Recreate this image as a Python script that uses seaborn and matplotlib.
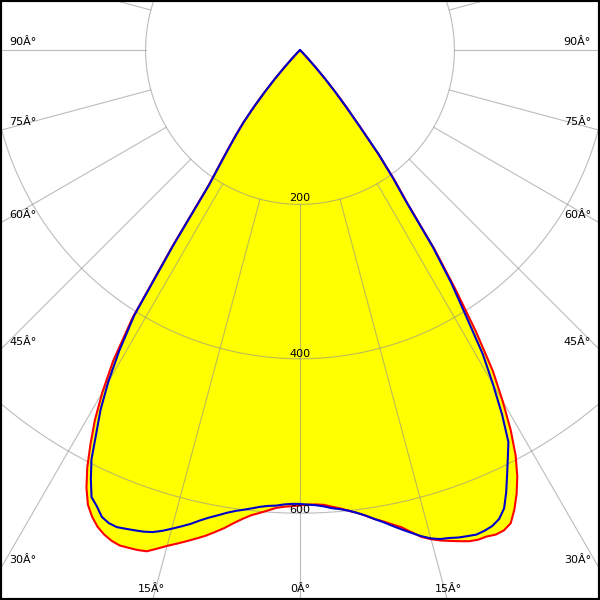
import numpy as np
import pandas as pd
import matplotlib
matplotlib.use("Agg")
import matplotlib.pyplot as plt
import seaborn as sns

# ---- data (gamma angle from nadir in degrees, intensity in cd) ----
angles = [0, 1, 2, 3, 4, 5, 6, 7, 8, 9, 10, 11, 12, 13, 14, 15, 16, 17, 18, 19,
          20, 21, 22, 23, 24, 25, 26, 27, 28, 29, 30, 31, 32, 33, 34, 35, 36, 37,
          38, 39, 40, 41, 42, 43, 44, 45, 50, 60, 70, 80, 90]
red_left = [590, 591, 592, 594, 598, 602, 606, 612, 619, 627, 634, 641, 647, 653,
            659, 665, 672, 679, 681, 682, 683, 681, 677, 671, 662, 650, 631, 607,
            578, 548, 512, 470, 410, 305, 212, 182, 158, 138, 119, 95, 72, 50, 30,
            15, 5, 0, 0, 0, 0, 0, 0]
red_right = [589, 589, 589, 590, 593, 596, 600, 604, 609, 615, 620, 626, 632, 641,
             650, 656, 661, 665, 669, 673, 675, 675, 677, 676, 671, 657, 640, 620,
             595, 563, 525, 485, 430, 370, 312, 243, 208, 168, 127, 98, 73, 50, 30,
             15, 5, 0, 0, 0, 0, 0, 0]
blue_left = [588, 588, 589, 591, 592, 594, 597, 600, 603, 607, 612, 617, 623, 630,
             636, 642, 648, 653, 656, 658, 660, 662, 661, 657, 647, 639, 618, 595,
             562, 533, 497, 455, 405, 300, 210, 180, 157, 137, 118, 95, 72, 50, 30,
             15, 5, 0, 0, 0, 0, 0, 0]
blue_right = [588, 589, 590, 592, 595, 597, 600, 604, 609, 615, 621, 628, 635, 642,
              649, 655, 659, 661, 664, 666, 668, 667, 665, 660, 650, 632, 612, 593,
              575, 540, 500, 460, 405, 360, 308, 240, 205, 170, 125, 95, 72, 50, 30,
              15, 5, 0, 0, 0, 0, 0, 0]
ring_values = [200, 400, 600]
ring_labels = ["200", "400", "600"]
angle_ticks = [0, 15, 30, 45, 60, 75, 90]
angle_labels = ["0Â°", "15Â°", "30Â°", "45Â°", "60Â°", "75Â°", "90Â°"]

sns.set_theme(style="white")
plt.rcParams['font.family'] = ['DejaVu Sans']

K = 0.772  # px per cd
fig = plt.figure(figsize=(6, 6), dpi=100)
ax = fig.add_axes([0, 0, 1, 1])
ax.set_xlim(-300 / K, 300 / K)
ax.set_ylim(-550 / K, 50 / K)


def curve_df(left, right):
    g = [-a for a in angles[::-1]] + angles[1:]
    i = left[::-1] + right[1:]
    g = np.radians(np.array(g, dtype=float))
    i = np.array(i, dtype=float)
    return pd.DataFrame({"x": i * np.sin(g), "y": -i * np.cos(g)})


red = curve_df(red_left, red_right)
blue = curve_df(blue_left, blue_right)

ax.fill(red["x"], red["y"], color="#ffff00", lw=0, zorder=1)
ax.fill(blue["x"], blue["y"], color="#ffff00", lw=0, zorder=1)

# grid
grid_c = "#909090"
t = np.radians(np.linspace(0, 360, 721))
for r in ring_values:
    ax.plot(r * np.sin(t), -r * np.cos(t), color=grid_c, lw=0.8, alpha=0.6, zorder=2)
for a in range(0, 360, 15):
    ar = np.radians(a)
    ax.plot([200 * np.sin(ar), 1500 * np.sin(ar)], [-200 * np.cos(ar), -1500 * np.cos(ar)],
            color=grid_c, lw=0.8, alpha=0.6, zorder=2)

sns.lineplot(data=red, x="x", y="y", sort=False, estimator=None, color="#ff0000",
             lw=1.5, ax=ax, zorder=3)
sns.lineplot(data=blue, x="x", y="y", sort=False, estimator=None, color="#0000cc",
             lw=1.5, ax=ax, zorder=4)

fs = 8
# ring labels
ring_py = [198, 354, 510]
for lab, py in zip(ring_labels, ring_py):
    ax.text(0.5, 1 - py / 600, lab, transform=ax.transAxes, ha="center", va="center",
            fontsize=fs, color="black", zorder=5)

# angle labels
side_py = {30: 560, 45: 342, 60: 215, 75: 122, 90: 42}
for a, lab in zip(angle_ticks, angle_labels):
    if a == 0:
        ax.text(0.5, 1 - 589 / 600, lab, transform=ax.transAxes, ha="center", va="center",
                fontsize=fs, color="black", zorder=5)
    elif a == 15:
        for px in (151, 448):
            ax.text(px / 600, 1 - 589 / 600, lab, transform=ax.transAxes, ha="center",
                    va="center", fontsize=fs, color="black", zorder=5)
    else:
        py = side_py[a]
        ax.text(9 / 600, 1 - py / 600, lab, transform=ax.transAxes, ha="left", va="center",
                fontsize=fs, color="black", zorder=5)
        ax.text(591 / 600, 1 - py / 600, lab, transform=ax.transAxes, ha="right", va="center",
                fontsize=fs, color="black", zorder=5)

ax.set_xticks([])
ax.set_yticks([])
ax.set_xlabel("")
ax.set_ylabel("")
for s in ax.spines.values():
    s.set_visible(True)
    s.set_color("black")
    s.set_linewidth(3)

fig.savefig("out.png", dpi=100, facecolor="white")
